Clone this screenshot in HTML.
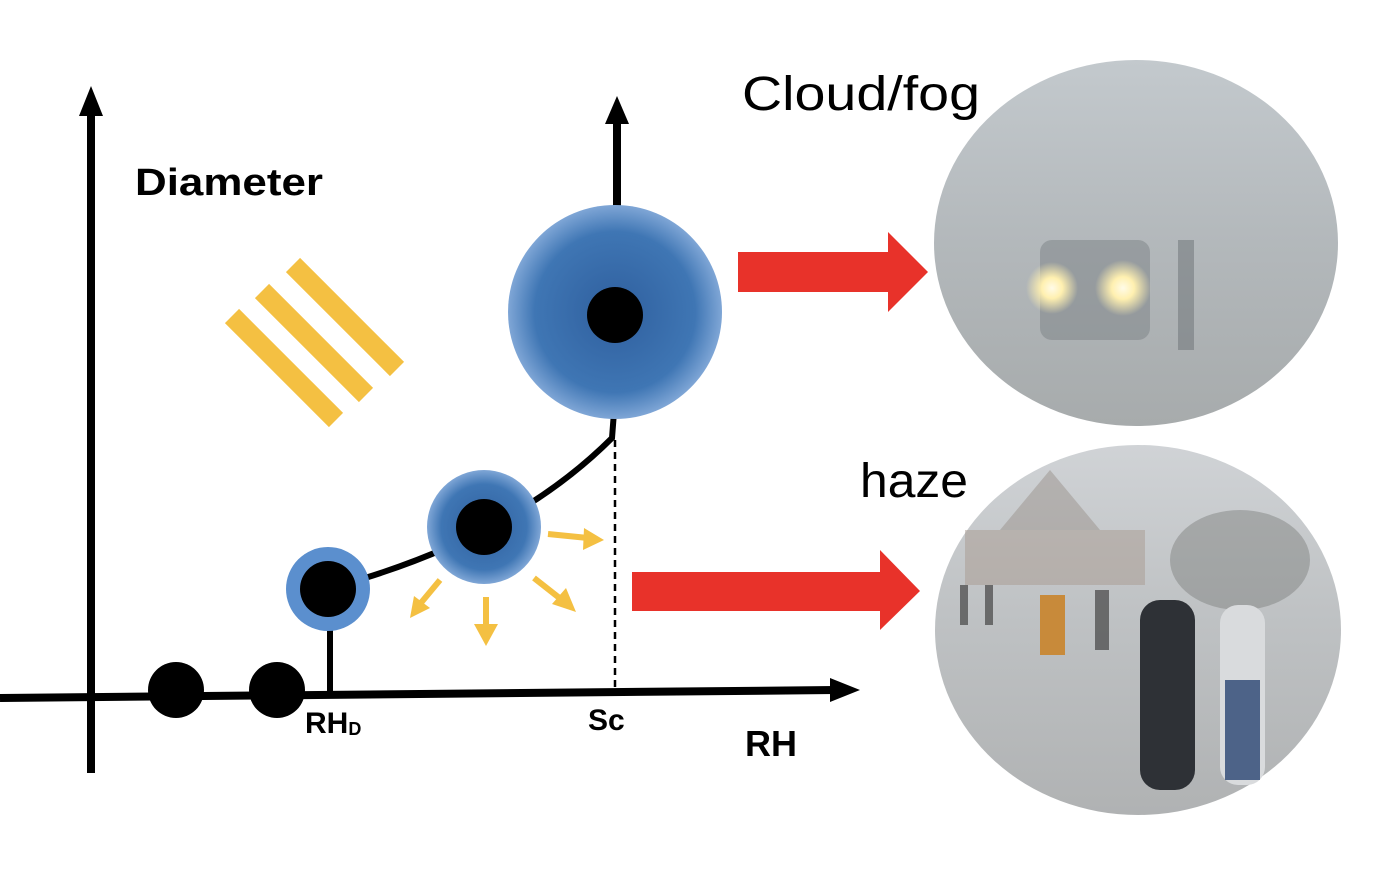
<!DOCTYPE html>
<html><head><meta charset="utf-8"><style>
html,body{margin:0;padding:0;background:#fff;width:1394px;height:872px;overflow:hidden}
text{font-family:"Liberation Sans",sans-serif}
</style></head><body>
<svg width="1394" height="872" viewBox="0 0 1394 872">
<defs>
<radialGradient id="blue" cx="50%" cy="50%" r="50%">
<stop offset="0" stop-color="#2f5f9e"/><stop offset="0.75" stop-color="#3f76b4"/><stop offset="1" stop-color="#7fa6d6"/>
</radialGradient>
<linearGradient id="fog" x1="0" y1="0" x2="0" y2="1">
<stop offset="0" stop-color="#c3c9cd"/><stop offset="0.5" stop-color="#b3b8bb"/><stop offset="1" stop-color="#a7abac"/>
</linearGradient>
<linearGradient id="haze" x1="0" y1="0" x2="0" y2="1">
<stop offset="0" stop-color="#d0d3d6"/><stop offset="0.45" stop-color="#bfc2c4"/><stop offset="1" stop-color="#b0b2b3"/>
</linearGradient>
<radialGradient id="light"><stop offset="0" stop-color="#fffbe8"/><stop offset="0.4" stop-color="#fff0b0"/><stop offset="1" stop-color="#fff0b0" stop-opacity="0"/></radialGradient>
</defs>

<g>
<line x1="91" y1="110" x2="91" y2="773" stroke="#000" stroke-width="8"/>
<polygon points="91,86 79,116 103,116" fill="#000"/>
</g>
<g>
<line x1="0" y1="698" x2="835" y2="690" stroke="#000" stroke-width="8"/>
<polygon points="860,690 830,678 830,702" fill="#000"/>
</g>
<g>
<line x1="617" y1="120" x2="617" y2="210" stroke="#000" stroke-width="8"/>
<polygon points="617,96 605,124 629,124" fill="#000"/>
</g>

<text x="135" y="195" font-size="38" font-weight="bold" textLength="188" lengthAdjust="spacingAndGlyphs">Diameter</text>

<g stroke="#f4c042" stroke-width="20">
<line x1="232" y1="316" x2="336" y2="420"/>
<line x1="262" y1="291" x2="366" y2="395"/>
<line x1="293" y1="265" x2="397" y2="369"/>
</g>

<path d="M365,578 Q520,530 612,438 L614,412" fill="none" stroke="#000" stroke-width="6"/>
<line x1="330" y1="625" x2="330" y2="694" stroke="#000" stroke-width="6"/>
<line x1="615" y1="440" x2="615" y2="688" stroke="#000" stroke-width="2.5" stroke-dasharray="7,5"/>

<circle cx="176" cy="690" r="28" fill="#000"/>
<circle cx="277" cy="690" r="28" fill="#000"/>
<g>
<circle cx="328" cy="589" r="42" fill="#5b8fce"/><circle cx="328" cy="589" r="28" fill="#000"/></g>
<g>
<circle cx="484" cy="527" r="57" fill="url(#blue)"/><circle cx="484" cy="527" r="28" fill="#000"/></g>
<g>
<circle cx="615" cy="312" r="107" fill="url(#blue)"/><circle cx="615" cy="315" r="28" fill="#000"/></g>

<g stroke="#f4c042" stroke-width="6" fill="#f4c042">
<line x1="548" y1="534" x2="588" y2="538"/><polygon points="604,540 584,528 583,550" stroke="none"/>
<line x1="440" y1="580" x2="420" y2="604"/><polygon points="410,618 414,596 430,608" stroke="none"/>
<line x1="486" y1="597" x2="486" y2="628"/><polygon points="486,646 474,624 498,624" stroke="none"/>
<line x1="534" y1="578" x2="562" y2="600"/><polygon points="576,612 552,604 566,588" stroke="none"/>
</g>

<text x="305" y="733" font-size="30" font-weight="bold">RH<tspan font-size="18" dy="2">D</tspan></text>
<text x="588" y="730" font-size="30" font-weight="bold">Sc</text>
<text x="745" y="756" font-size="36" font-weight="bold">RH</text>

<g fill="#e8322a">
<rect x="738" y="252" width="152" height="40"/><polygon points="888,232 928,272 888,312"/></g>
<g fill="#e8322a">
<rect x="632" y="572" width="250" height="39"/><polygon points="880,550 920,591 880,630"/></g>

<text x="742" y="110" font-size="48" textLength="238" lengthAdjust="spacingAndGlyphs">Cloud/fog</text>
<text x="860" y="497" font-size="48" textLength="108" lengthAdjust="spacingAndGlyphs">haze</text>

<g>
<ellipse cx="1136" cy="243" rx="202" ry="183" fill="url(#fog)"/>
<rect x="1040" y="240" width="110" height="100" rx="12" fill="#7b8185" opacity="0.5"/>
<rect x="1178" y="240" width="16" height="110" fill="#6a7074" opacity="0.5"/>
<circle cx="1052" cy="288" r="26" fill="url(#light)"/>
<circle cx="1123" cy="288" r="28" fill="url(#light)"/>
</g>
<g>
<ellipse cx="1138" cy="630" rx="203" ry="185" fill="url(#haze)"/>
<rect x="965" y="530" width="180" height="55" fill="#a8998f" opacity="0.5"/>
<polygon points="1000,530 1050,470 1100,530" fill="#9a918c" opacity="0.5"/>
<ellipse cx="1240" cy="560" rx="70" ry="50" fill="#7a7d79" opacity="0.45"/>
<rect x="1140" y="600" width="55" height="190" rx="20" fill="#2e3136"/>
<rect x="1220" y="605" width="45" height="180" rx="18" fill="#d9dbdd"/>
<rect x="1225" y="680" width="35" height="100" fill="#4d6388"/>
<rect x="1040" y="595" width="25" height="60" fill="#c88a3a"/>
<rect x="960" y="585" width="8" height="40" fill="#444" opacity="0.7"/>
<rect x="985" y="585" width="8" height="40" fill="#444" opacity="0.7"/>
<rect x="1095" y="590" width="14" height="60" fill="#444" opacity="0.7"/>
</g>
</svg>
</body></html>
